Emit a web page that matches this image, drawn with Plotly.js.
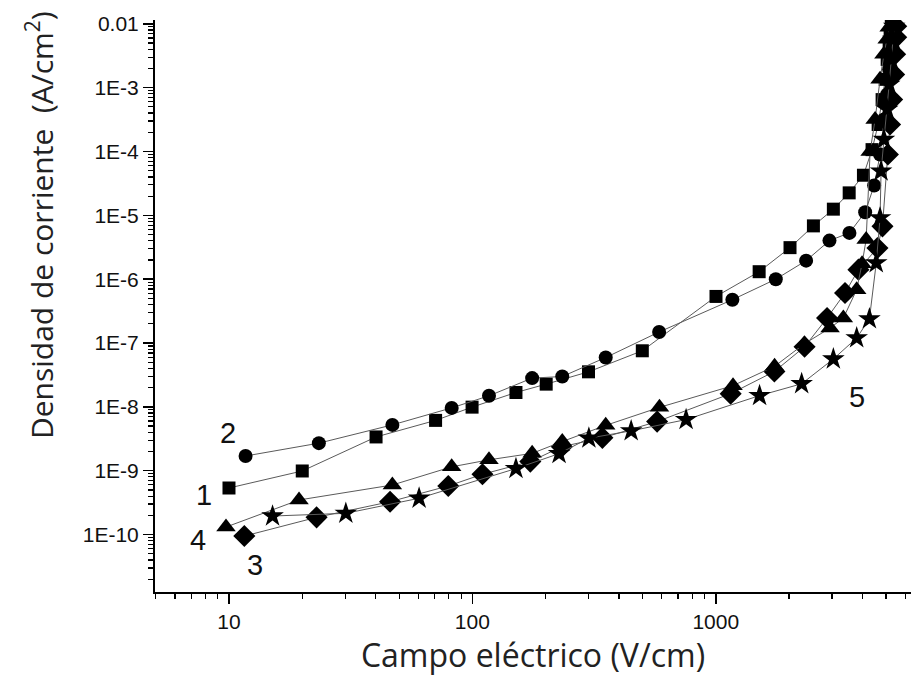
<!DOCTYPE html>
<html>
<head>
<meta charset="utf-8">
<script src="https://cdn.plot.ly/plotly-3.0.1.min.js"></script>
<style>html,body{margin:0;padding:0;background:#fff;}#chart{width:912px;height:685px;}</style>
</head>
<body>
<div id="chart"></div>
<script>
// Curve 1 (squares)
const field1 = [10.0, 20.0, 40.2, 70.6, 99.7, 151, 201, 300, 499, 1002, 1507, 2018, 2518, 3041, 3532, 4042, 4385, 4645, 4823, 4966, 5060, 5155, 5203, 5260];
const current1 = [5.36e-10, 9.9e-10, 3.38e-9, 6.14e-9, 9.9e-9, 1.68e-8, 2.27e-8, 3.54e-8, 7.56e-8, 5.37e-7, 1.31e-6, 3.12e-6, 6.84e-6, 1.25e-5, 2.25e-5, 4.25e-5, 1.07e-4, 2.65e-4, 6.5e-4, 1.35e-3, 2.77e-3, 4.77e-3, 7.36e-3, 9.47e-3];
// Curve 2 (circles)
const field2 = [11.7, 23.4, 46.9, 82.2, 117, 176, 234, 353, 585, 1170, 1764, 2350, 2931, 3540, 4108, 4472, 4730, 4908, 5060, 5155, 5203, 5303];
const current2 = [1.70e-9, 2.70e-9, 5.22e-9, 9.64e-9, 1.49e-8, 2.82e-8, 2.99e-8, 5.93e-8, 1.49e-7, 4.77e-7, 1.0e-6, 1.95e-6, 4.02e-6, 5.31e-6, 1.12e-5, 2.93e-5, 8.97e-5, 3.18e-4, 7.83e-4, 1.93e-3, 3.98e-3, 8.81e-3];
// Curve 3 (diamonds)
const field3 = [11.56, 22.9, 45.9, 79.6, 110, 173, 233, 342, 574, 1151, 1741, 2316, 2865, 3396, 3855, 4614, 4840, 5095, 5200, 5303, 5405, 5455, 5510, 5510];
const current3 = [9.47e-11, 1.86e-10, 3.27e-10, 5.77e-10, 8.8e-10, 1.39e-9, 2.38e-9, 3.27e-9, 5.88e-9, 1.61e-8, 3.58e-8, 8.73e-8, 2.46e-7, 6.08e-7, 1.41e-6, 3.08e-6, 6.73e-6, 8.97e-5, 2.65e-4, 6.5e-4, 1.61e-3, 3.33e-3, 6.14e-3, 9.14e-3];
// Curve 4 (triangles)
const field4 = [9.72, 19.4, 46.9, 82.2, 117, 176, 234, 353, 587, 1177, 1744, 2312, 2949, 3342, 3792, 3990, 4147, 4306, 4514, 4730, 4908, 5060, 5155];
const current4 = [1.31e-10, 3.48e-10, 5.97e-10, 1.15e-9, 1.48e-9, 1.87e-9, 2.86e-9, 5.13e-9, 9.82e-9, 2.15e-8, 4.32e-8, 9.73e-8, 1.72e-7, 2.46e-7, 6.84e-7, 1.75e-6, 4.17e-6, 1.0e-4, 3.18e-4, 1.35e-3, 3.33e-3, 5.71e-3, 8.81e-3];
// Curve 5 (stars)
const field5 = [15.1, 30.2, 60.4, 151, 227, 301, 449, 755, 1513, 2253, 3041, 3792, 4277, 4563, 4730, 4776, 4908, 5060, 5155, 5260, 5354, 5405];
const current5 = [1.95e-10, 2.15e-10, 3.70e-10, 1.08e-9, 1.85e-9, 3.23e-9, 4.21e-9, 6.32e-9, 1.50e-8, 2.30e-8, 5.62e-8, 1.20e-7, 2.38e-7, 1.80e-6, 9.12e-6, 4.91e-5, 1.54e-4, 4.56e-4, 1.12e-3, 2.77e-3, 5.71e-3, 9.14e-3];

const curveLabels = ['1', '2', '3', '4', '5'];
const xTickVals = [10, 100, 1000];
const xTickText = ['10', '100', '1000'];
const yTickVals = [1e-10, 1e-9, 1e-8, 1e-7, 1e-6, 1e-5, 1e-4, 1e-3, 1e-2];
const yTickText = ['1E-10', '1E-9', '1E-8', '1E-7', '1E-6', '1E-5', '1E-4', '1E-3', '0.01'];

function minorVals(lo, hi) {
  const out = [];
  for (let e = lo; e <= hi; e++) {
    for (let m = 2; m <= 9; m++) out.push(m * Math.pow(10, e));
  }
  return out;
}

const series = [
  [field1, current1, 'square', 13],
  [field2, current2, 'circle', 14],
  [field3, current3, 'diamond', 17],
  [field4, current4, 'triangle-up', 17],
  [field5, current5, 'star', 17]
];

const traces = series.map((s, i) => ({
  x: s[0], y: s[1], name: curveLabels[i],
  type: 'scatter', mode: 'lines+markers',
  line: {color: '#5a5a5a', width: 1},
  marker: {symbol: s[2], size: s[3], color: '#000'},
  showlegend: false
}));

const labelFont = {family: 'Liberation Sans, Arial, sans-serif', size: 29, color: '#111'};
const labelPos = [[0.0648, 0.1696], [0.0962, 0.2774], [0.1323, 0.0472], [0.0573, 0.0909], [0.9282, 0.3414]];
const annotations = curveLabels.map((t, i) => ({
  text: t, xref: 'paper', yref: 'paper', x: labelPos[i][0], y: labelPos[i][1],
  xanchor: 'center', yanchor: 'middle', showarrow: false, font: labelFont
}));
annotations.push({
  text: 'Densidad de corriente  (A/cm<sup>2</sup>)',
  xref: 'paper', yref: 'paper', x: -0.152, y: 0.6416, textangle: -90,
  xanchor: 'center', yanchor: 'middle', showarrow: false,
  font: {family: 'Open Sans, sans-serif', size: 30, color: '#222'}
});

const tickFont = {family: 'Liberation Sans, Arial, sans-serif', size: 21, color: '#111'};

const layout = {
  width: 912, height: 685,
  margin: {l: 155, r: 1, t: 20, b: 93},
  paper_bgcolor: '#fff', plot_bgcolor: '#fff',
  xaxis: {
    type: 'log', range: [0.696, 3.802],
    showline: true, linecolor: '#000', linewidth: 2, mirror: false,
    showgrid: false, zeroline: false,
    ticks: 'outside', ticklen: 10, tickwidth: 1.5, tickcolor: '#000',
    tickmode: 'array', tickvals: xTickVals, ticktext: xTickText,
    tickfont: tickFont,
    minor: {tickmode: 'array', tickvals: minorVals(0, 3), ticks: 'outside', ticklen: 5, tickwidth: 1.2, tickcolor: '#000', showgrid: false},
    title: {text: 'Campo eléctrico (V/cm)', font: {family: 'Open Sans, sans-serif', size: 32, color: '#222'}, standoff: 12}
  },
  yaxis: {
    type: 'log', range: [-10.90, -1.94],
    showline: true, linecolor: '#000', linewidth: 2, mirror: false,
    showgrid: false, zeroline: false,
    ticks: 'outside', ticklen: 10, tickwidth: 1.5, tickcolor: '#000',
    tickmode: 'array', tickvals: yTickVals, ticktext: yTickText,
    tickfont: tickFont,
    minor: {tickmode: 'array', tickvals: minorVals(-11, -3), ticks: 'outside', ticklen: 5, tickwidth: 1.2, tickcolor: '#000', showgrid: false}
  },
  annotations: annotations
};

Plotly.newPlot('chart', traces, layout, {displayModeBar: false, staticPlot: true});
</script>
</body>
</html>
